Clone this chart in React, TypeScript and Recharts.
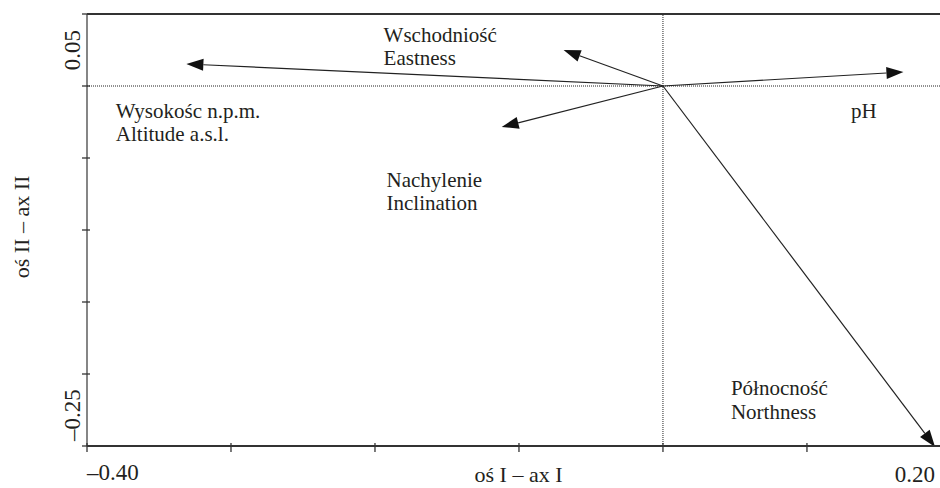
import { ReferenceLine, Scatter, ScatterChart, XAxis, YAxis } from "recharts";

// Ordination diagram: environmental variables as arrows from the origin.
const VARIABLES = ["altitude", "eastness", "inclination", "ph", "northness"];
const ARROW_X = [-0.331, -0.069, -0.112, 0.167, 0.189];
const ARROW_Y = [0.0153, 0.025, -0.0285, 0.0097, -0.2507];

const LABEL_LINES = [
  ["Wysokośc n.p.m.", "Altitude a.s.l."],
  ["Wschodniość", "Eastness"],
  ["Nachylenie", "Inclination"],
  ["pH"],
  ["Północność", "Northness"],
];
// label anchors (first line baseline, left edge) in axis units
const LABEL_X = [-0.38, -0.194, -0.192, 0.1306, 0.0472];
const LABEL_Y = [-0.0222, 0.0306, -0.0701, -0.0222, -0.2146];

const X_MIN = -0.4;
const X_MAX = 0.1924;
const Y_MIN = -0.25;
const Y_MAX = 0.05;
const X_TICKS = [-0.4, -0.3, -0.2, -0.1, 0, 0.1];
const Y_TICKS = [0.05, 0, -0.05, -0.1, -0.15, -0.2, -0.25];
const X_END_LABELS = ["–0.40", "0.20"];
const Y_END_LABELS = ["0.05", "–0.25"];
const X_TITLE = "oś I – ax I";
const Y_TITLE = "oś II – ax II";

const FONT = "'Liberation Serif', 'Times New Roman', serif";
const INK = "#231f20";
const LINE = "#333";

const labelData = VARIABLES.map((id, i) => ({
  id,
  x: LABEL_X[i],
  y: LABEL_Y[i],
  lines: LABEL_LINES[i],
}));

function Arrow(props: any) {
  const { x1, y1, x2, y2 } = props;
  const dx = x2 - x1;
  const dy = y2 - y1;
  const len = Math.sqrt(dx * dx + dy * dy) || 1;
  const ux = dx / len;
  const uy = dy / len;
  const head = 17;
  const half = 6;
  const bx = x2 - ux * head;
  const by = y2 - uy * head;
  const pts = [
    [x2, y2],
    [bx - uy * half, by + ux * half],
    [bx + uy * half, by - ux * half],
  ]
    .map((p) => p.join(","))
    .join(" ");
  return (
    <g>
      <line x1={x1} y1={y1} x2={bx} y2={by} stroke="#222" strokeWidth={1.2} />
      <polygon points={pts} fill="#111" />
    </g>
  );
}

function XTick(props: any) {
  const { x, y, payload } = props;
  const v = payload.value;
  if (v === X_MAX) {
    return (
      <text x={x - 5} y={y + 36} textAnchor="end" fontSize={23} fontFamily={FONT} fill={INK}>
        {X_END_LABELS[1]}
      </text>
    );
  }
  return (
    <g>
      <line x1={x} x2={x} y1={y - 3} y2={y + 6} stroke={LINE} strokeWidth={1.3} />
      {v === X_MIN ? (
        <text x={x} y={y + 34} textAnchor="start" fontSize={23} fontFamily={FONT} fill={INK}>
          {X_END_LABELS[0]}
        </text>
      ) : null}
    </g>
  );
}

function YTick(props: any) {
  const { x, y, payload } = props;
  const v = payload.value;
  let label: React.ReactNode = null;
  if (v === Y_MAX || v === Y_MIN) {
    const cy = v === Y_MAX ? y + 36 : y - 31;
    label = (
      <text
        transform={`translate(${x - 7}, ${cy}) rotate(-90)`}
        textAnchor="middle"
        fontSize={23}
        fontFamily={FONT}
        fill={INK}
      >
        {v === Y_MAX ? Y_END_LABELS[0] : Y_END_LABELS[1]}
      </text>
    );
  }
  return (
    <g>
      <line x1={x - 5} x2={x + 3} y1={y} y2={y} stroke={LINE} strokeWidth={1.3} />
      {label}
    </g>
  );
}

function VarLabel(props: any) {
  const { cx, cy, payload } = props;
  return (
    <text x={cx} y={cy} fontSize={21} fontFamily={FONT} fill={INK}>
      {payload.lines.map((t: string, i: number) => (
        <tspan key={i} x={cx} dy={i === 0 ? 0 : 23.5}>
          {t}
        </tspan>
      ))}
    </text>
  );
}

export default function App() {
  return (
    <div style={{ position: "fixed", left: 0, top: 0, width: 940, height: 488, background: "#fff" }}>
      <ScatterChart width={940} height={488} margin={{ top: 14, right: 0, bottom: 41, left: 86 }}>
        <XAxis
          type="number"
          dataKey="x"
          domain={[X_MIN, X_MAX]}
          allowDataOverflow
          ticks={[...X_TICKS, X_MAX]}
          interval={0}
          height={1}
          tickSize={0}
          tickMargin={0}
          tickLine={false}
          axisLine={{ stroke: LINE, strokeWidth: 2 }}
          tick={<XTick />}
          label={{
            content: (p: any) => {
              const vb = p.viewBox;
              return (
                <text
                  x={vb.x + vb.width / 2 + 5}
                  y={vb.y + 36}
                  textAnchor="middle"
                  fontSize={22}
                  fontFamily={FONT}
                  fill={INK}
                >
                  {X_TITLE}
                </text>
              );
            },
          }}
        />
        <YAxis
          type="number"
          dataKey="y"
          domain={[Y_MIN, Y_MAX]}
          allowDataOverflow
          ticks={Y_TICKS}
          interval={0}
          width={1}
          tickSize={0}
          tickMargin={0}
          tickLine={false}
          axisLine={{ stroke: "#444", strokeWidth: 1.3 }}
          tick={<YTick />}
          label={{
            content: (p: any) => {
              const vb = p.viewBox;
              return (
                <text
                  transform={`translate(29, ${vb.y + vb.height / 2 - 3}) rotate(-90)`}
                  textAnchor="middle"
                  fontSize={22}
                  fontFamily={FONT}
                  fill={INK}
                >
                  {Y_TITLE}
                </text>
              );
            },
          }}
        />
        <ReferenceLine y={Y_MAX} stroke={LINE} strokeWidth={2} ifOverflow="visible" />
        <ReferenceLine y={0} stroke="#222" strokeDasharray="1 1" strokeWidth={1} />
        <ReferenceLine x={0} stroke="#222" strokeDasharray="1 1" strokeWidth={1} />
        {VARIABLES.map((id, i) => (
          <ReferenceLine
            key={id}
            segment={[
              { x: 0, y: 0 },
              { x: ARROW_X[i], y: ARROW_Y[i] },
            ]}
            ifOverflow="visible"
            shape={Arrow}
          />
        ))}
        <Scatter data={labelData} shape={VarLabel} isAnimationActive={false} />
      </ScatterChart>
    </div>
  );
}
